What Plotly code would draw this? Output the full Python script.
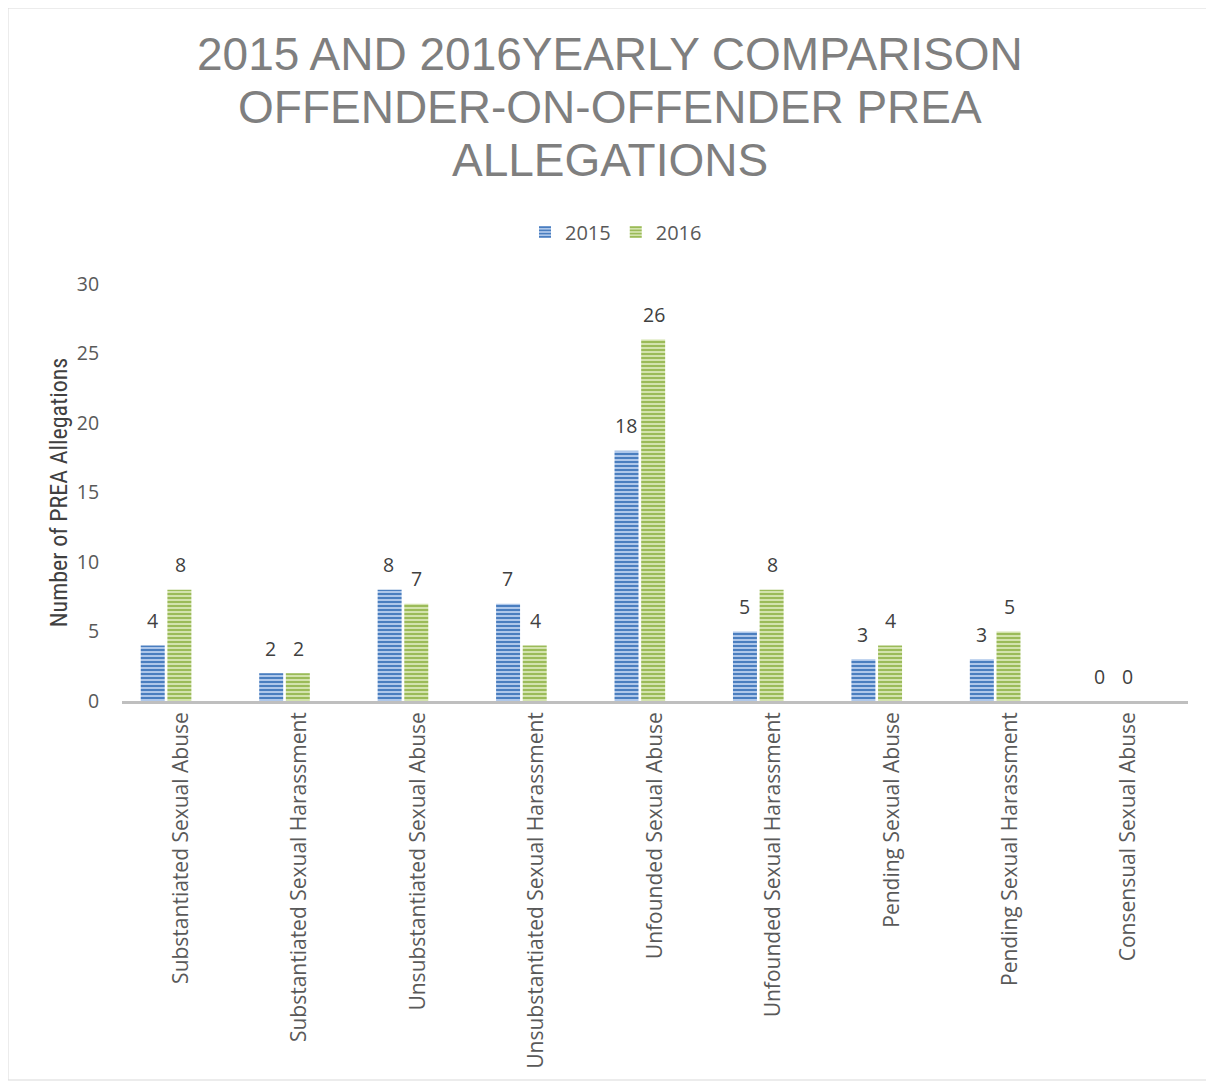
import plotly.graph_objects as go

categories = ["Substantiated Sexual Abuse", "Substantiated Sexual Harassment",
              "Unsubstantiated Sexual Abuse", "Unsubstantiated Sexual Harassment",
              "Unfounded Sexual Abuse", "Unfounded Sexual Harassment",
              "Pending Sexual Abuse", "Pending Sexual Harassment",
              "Consensual Sexual Abuse"]
values_2015 = [4, 2, 8, 7, 18, 5, 3, 3, 0]
values_2016 = [8, 2, 7, 4, 26, 8, 4, 5, 0]
y_ticks = [0, 5, 10, 15, 20, 25, 30]
title_lines = ["2015 AND 2016YEARLY COMPARISON", "OFFENDER-ON-OFFENDER PREA", "ALLEGATIONS"]

OFF = 8  # page body margin
W, H = 1214 - OFF, 1082 - OFF
L, R, T, B = 122 - OFF, 26, 284 - OFF, 381


def px_x(x):
    return (x - OFF - L) / (W - L - R)


def px_y(y):
    return (H - B - (y - OFF)) / (H - T - B)


fig = go.Figure()
fig.add_trace(go.Bar(
    name="2015", x=categories, y=values_2015,
    marker=dict(color="#a9c3e8", line=dict(width=0),
                pattern=dict(shape="-", fgcolor="#4a7ebf", bgcolor="#aec7ea",
                             size=4, solidity=0.5, fillmode="replace")),
))
fig.add_trace(go.Bar(
    name="2016", x=categories, y=values_2016,
    marker=dict(color="#d0e1a8", line=dict(width=0),
                pattern=dict(shape="-", fgcolor="#9bbb59", bgcolor="#d3e3ad",
                             size=4, solidity=0.5, fillmode="replace")),
))

# data labels
for vals, dx in ((values_2015, -14), (values_2016, 14)):
    for c, v in zip(categories, vals):
        fig.add_annotation(x=c, y=v, text=str(v), showarrow=False, xshift=dx, yshift=25,
                           xanchor="center", yanchor="middle",
                           font=dict(size=19.5, color="#404040", family="Open Sans, sans-serif"))

fig.add_shape(type="rect", xref="paper", yref="paper",
              x0=px_x(8), x1=px_x(1211), y0=px_y(1080), y1=px_y(8),
              line=dict(color="#d9d9d9", width=1), fillcolor="rgba(0,0,0,0)", layer="below")

for line, yc in zip(title_lines, (54, 107, 160)):
    fig.add_annotation(
        text=line, xref="paper", yref="paper", x=px_x(610), y=px_y(yc),
        xanchor="center", yanchor="middle", showarrow=False,
        font=dict(size=46, color="#7f7f7f", family="Liberation Sans, Arial, sans-serif"),
    )

fig.update_layout(
    width=W, height=H,
    margin=dict(l=L, r=R, t=T, b=B),
    paper_bgcolor="white", plot_bgcolor="white",
    font=dict(family="Open Sans, sans-serif", color="#595959"),
    barmode="group", bargap=0.55, bargroupgap=0.1,
    legend=dict(orientation="h", x=px_x(616), xanchor="center", y=px_y(232), yanchor="middle",
                font=dict(size=20, color="#595959", family="Open Sans, sans-serif"),
                itemwidth=30, traceorder="normal"),
    xaxis=dict(range=[-0.372, 8.628], tickangle=-90, showline=True, linecolor="#bfbfbf",
               linewidth=2.5, ticks="", showgrid=False, ticklabelshift=15,
               tickfont=dict(size=21, color="#595959", family="Open Sans, sans-serif")),
    yaxis=dict(range=[0, 30], tickvals=y_ticks, showgrid=False, zeroline=False,
               showline=False, ticks="outside", ticklen=18, tickcolor="rgba(0,0,0,0)",
               tickfont=dict(size=19.5, color="#595959", family="Open Sans, sans-serif"),
               title=dict(text="Number of PREA Allegations", standoff=2,
                          font=dict(size=24, color="#404040",
                                    family="Liberation Sans Narrow, Roboto Condensed, Liberation Sans, sans-serif"))),
)

fig.write_html("out.html")
